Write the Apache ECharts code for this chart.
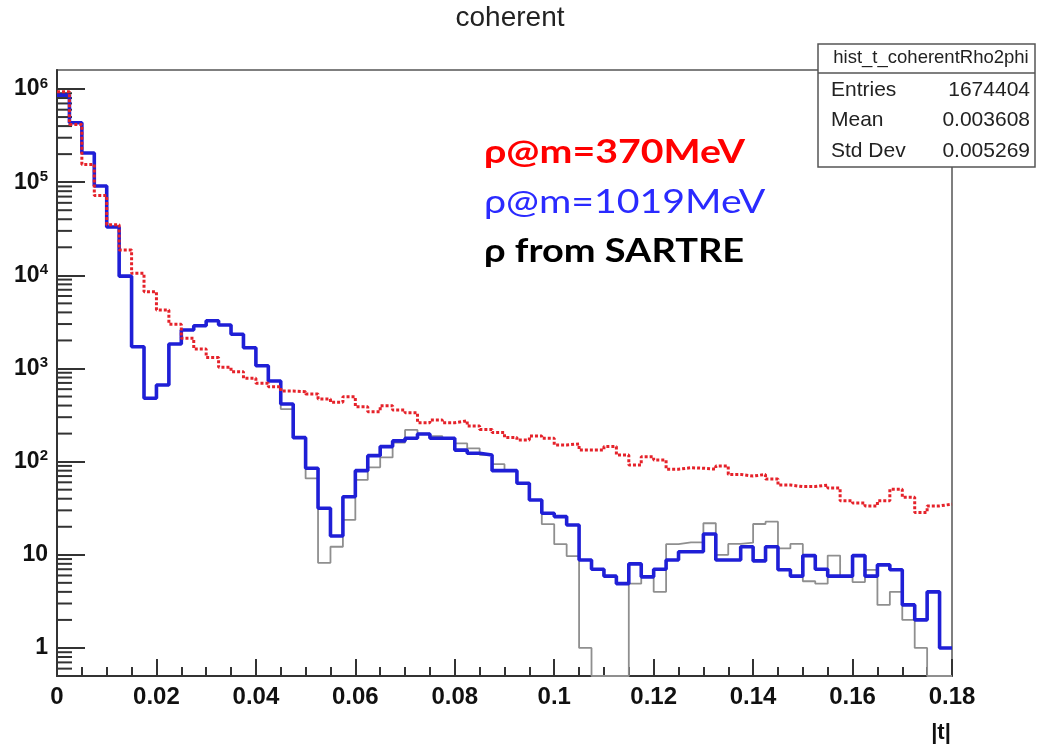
<!DOCTYPE html>
<html><head><meta charset="utf-8">
<script src="https://cdn.jsdelivr.net/npm/echarts@6/dist/echarts.min.js"></script>
<style>html,body{margin:0;padding:0;background:#fff}#c{width:1038px;height:747px}</style>
</head><body><div id="c"></div>
<script>
// ---- data: |t| histograms, 72 bins of width 0.0025 from 0 to 0.18 ----
const T_MIN = 0, T_MAX = 0.18, BIN_W = 0.0025;
const Y_MIN = 0.5, Y_MAX = 1.6e6;

// rho @ m = 370 MeV (red dotted)
const rho370 = [935000, 417000, 155000, 72000, 35000, 18700, 10500, 6660, 4250, 2980,
  2110, 1620, 1310, 1030, 925, 785, 694, 638, 573, 564,
  532, 471, 434, 498, 389, 344, 399, 358, 335, 262,
  280, 262, 275, 241, 222, 205, 182, 171, 188, 178,
  151, 155, 133, 133, 145, 118, 92, 113, 104, 83,
  86, 85, 83, 90, 73, 70, 73, 65, 56, 54,
  54, 56, 52, 38, 36, 33.5, 38, 50.5, 41.4, 28.4,
  33.5, 35];

// rho @ m = 1019 MeV (blue thick)
const rho1019 = [860000, 435000, 206000, 91000, 33000, 9800, 1710, 479, 665, 1830,
  2590, 2880, 3260, 2930, 2330, 1670, 1070, 734, 416, 181,
  85, 31.6, 15.9, 42, 80, 116, 145, 167, 178, 198,
  178, 178, 133, 123, 118, 80, 80, 58.6, 38.8, 27.9,
  25.7, 20.9, 8.8, 7.0, 5.9, 4.9, 8.0, 5.8, 7.0, 8.8,
  10.8, 10.8, 16.7, 8.8, 8.8, 12.2, 8.6, 12.2, 6.9, 5.9,
  9.8, 7.0, 5.9, 5.9, 9.8, 5.9, 7.8, 6.9, 2.9, 2.0,
  4.0, 1.0];

// rho from SARTRE (grey thin); 0 = empty bin
const sartre = [860000, 435000, 206000, 91000, 33000, 9800, 1710, 479, 665, 1830,
  2590, 2880, 3260, 2930, 2330, 1670, 1070, 734, 367, 181,
  66, 8.2, 12.2, 23.7, 63.6, 87, 111, 160, 219, 200,
  188, 178, 157, 139, 118, 94, 81, 58.6, 38.8, 21.3,
  13, 9.7, 1.0, 0, 0, 0, 4.9, 5.8, 4.0, 13,
  13.6, 13.6, 21.8, 10, 13.1, 13.5, 21.4, 22.7, 11.7, 13.1,
  5.2, 4.9, 9.8, 5.9, 5.1, 6.9, 2.9, 4.0, 2.0, 1.0,
  0, 0];

const yMajorTicks = [1, 10, 100, 1000, 10000, 100000, 1000000];
const statRows = [['Entries', '1674404'], ['Mean', '0.003608'], ['Std Dev', '0.005269']];
const statName = 'hist_t_coherentRho2phi';

// ---- build step points (bin low edges + closing edge) ----
function toSteps(vals) {
  const pts = vals.map((v, i) => [+(T_MIN + i * BIN_W).toFixed(4), v > 0 ? v : Y_MIN]);
  pts.push([T_MAX, vals[vals.length - 1] > 0 ? vals[vals.length - 1] : Y_MIN]);
  return pts;
}
const minorY = [];
for (const d of [0.1, 1, 10, 100, 1000, 10000, 100000, 1000000]) {
  for (let m = 2; m <= 9; m++) { const v = m * d; if (v > Y_MIN && v < Y_MAX) minorY.push([0, v]); }
}

const FONT = 'Liberation Sans, Arial, Helvetica, sans-serif';
const AX = '#333';
const chart = echarts.init(document.getElementById('c'), null, { renderer: 'canvas' });
chart.setOption({
  animation: false,
  backgroundColor: '#fff',
  grid: { left: 57, right: 86, top: 70, bottom: 71, show: true, borderColor: '#555', borderWidth: 1.5, backgroundColor: 'transparent' },
  xAxis: {
    type: 'value', min: T_MIN, max: T_MAX, interval: 0.02,
    axisLine: { show: true, lineStyle: { color: AX, width: 2 } },
    axisTick: { show: true, inside: true, length: 17, lineStyle: { color: AX, width: 2 } },
    minorTick: { show: true, splitNumber: 4, length: 9, lineStyle: { color: AX, width: 2 } },
    splitLine: { show: false },
    axisLabel: { margin: 9, color: '#111', fontSize: 24, fontWeight: 'bold', fontFamily: FONT,
      formatter: v => (v === 0 ? '0' : String(+v.toFixed(2))) }
  },
  yAxis: {
    type: 'log', logBase: 10, min: Y_MIN, max: Y_MAX,
    axisLine: { show: true, lineStyle: { color: AX, width: 2 } },
    axisTick: { show: true, inside: true, length: 28, lineStyle: { color: AX, width: 2 } },
    splitLine: { show: false },
    axisLabel: {
      margin: 9, color: '#111', fontSize: 23, fontWeight: 'bold', fontFamily: FONT,
      showMinLabel: false, showMaxLabel: false,
      formatter: v => {
        const l = Math.log10(v), e = Math.round(l);
        if (Math.abs(l - e) > 1e-6 || !yMajorTicks.includes(Math.pow(10, e))) return '';
        if (e === 0) return '1';
        if (e === 1) return '10';
        return '{b|10}{s|' + e + '}';
      },
      rich: {
        b: { fontSize: 23, fontWeight: 'bold', fontFamily: FONT, color: '#111', lineHeight: 26 },
        s: { fontSize: 15, fontWeight: 'bold', fontFamily: FONT, color: '#111', lineHeight: 13, verticalAlign: 'top' }
      }
    }
  },
  series: [
    {
      type: 'custom', coordinateSystem: 'cartesian2d', silent: true, z: 1,
      encode: { x: 0, y: 1 }, data: minorY,
      renderItem: (params, api) => {
        const p = api.coord([0, api.value(1)]);
        return { type: 'line', shape: { x1: p[0], y1: p[1], x2: p[0] + 15, y2: p[1] },
          style: { stroke: AX, lineWidth: 2 } };
      }
    },
    { name: 'SARTRE', type: 'line', step: 'end', data: toSteps(sartre), showSymbol: false, z: 2,
      lineStyle: { color: '#8f8f8f', width: 1.8 } },
    { name: '1019', type: 'line', step: 'end', data: toSteps(rho1019), showSymbol: false, z: 3,
      lineStyle: { color: '#1f1fd6', width: 3.6 } },
    { name: '370', type: 'line', step: 'end', data: toSteps(rho370), showSymbol: false, z: 4,
      lineStyle: { color: '#e5222a', width: 3, type: [3, 2] } }
  ],
  graphic: [
    { type: 'text', x: 510, y: 18, z: 10, style: { text: 'coherent', font: 'normal 28px ' + FONT, fill: '#222', align: 'center', verticalAlign: 'middle' } },
    { type: 'text', x: 941, y: 733, z: 10, style: { text: '|t|', font: 'bold 22px ' + FONT, fill: '#111', align: 'center', verticalAlign: 'middle' } },
    { type: 'text', x: 484, y: 152, scaleX: 1.19, z: 10, style: { text: 'ρ@m=370MeV', font: 'bold 33px Lato, sans-serif', fill: '#ff0000', verticalAlign: 'middle' } },
    { type: 'text', x: 484, y: 202, scaleX: 1.19, z: 10, style: { text: 'ρ@m=1019MeV', font: 'normal 33px Lato, sans-serif', fill: '#2a2aff', verticalAlign: 'middle' } },
    { type: 'text', x: 484, y: 251, scaleX: 1.15, z: 10, style: { text: 'ρ from SARTRE', font: 'bold 33px Lato, sans-serif', fill: '#000', verticalAlign: 'middle' } },
    { type: 'rect', z: 20, shape: { x: 818, y: 44, width: 217, height: 123 }, style: { fill: '#fff', stroke: '#555', lineWidth: 1.5 } },
    { type: 'line', z: 21, shape: { x1: 818, y1: 73, x2: 1035, y2: 73 }, style: { stroke: '#555', lineWidth: 1.5 } },
    { type: 'text', z: 22, x: 931, y: 58, style: { text: statName, font: 'normal 18.5px ' + FONT, fill: '#222', align: 'center', verticalAlign: 'middle' } },
    ...statRows.flatMap((r, i) => [
      { type: 'text', z: 22, x: 831, y: 90 + i * 30.5, style: { text: r[0], font: 'normal 21px ' + FONT, fill: '#222', align: 'left', verticalAlign: 'middle' } },
      { type: 'text', z: 22, x: 1030, y: 90 + i * 30.5, style: { text: r[1], font: 'normal 21px ' + FONT, fill: '#222', align: 'right', verticalAlign: 'middle' } }
    ])
  ]
});
</script></body></html>
